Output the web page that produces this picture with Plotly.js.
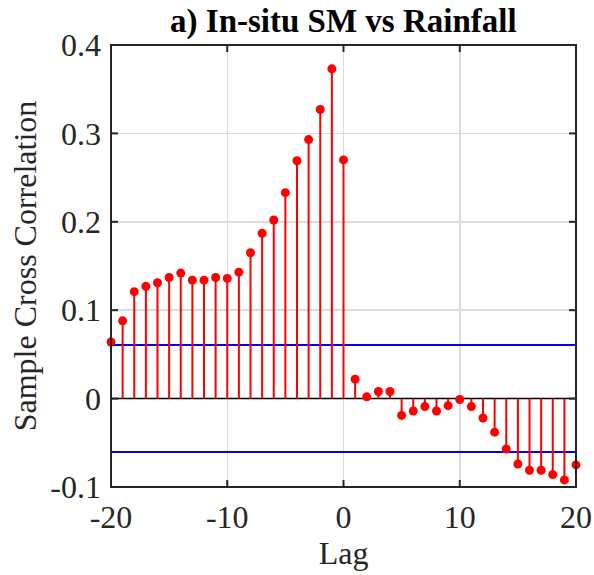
<!DOCTYPE html>
<html>
<head>
<meta charset="utf-8">
<script src="https://cdn.plot.ly/plotly-3.0.1.min.js"></script>
<style>html,body{margin:0;padding:0;background:#fff;}#wrap{position:relative;width:594px;height:575px;}#chart{width:594px;height:575px;}
#frameDiv{position:absolute;left:110px;top:44px;width:463px;height:440px;border:2px solid #262626;pointer-events:none;}</style>
</head>
<body>
<div id="wrap"><div id="chart"></div><div id="frameDiv"></div></div>
<script>
const lags = [-20,-19,-18,-17,-16,-15,-14,-13,-12,-11,-10,-9,-8,-7,-6,-5,-4,-3,-2,-1,0,1,2,3,4,5,6,7,8,9,10,11,12,13,14,15,16,17,18,19,20];
const xcf = [0.064,0.088,0.121,0.127,0.131,0.137,0.142,0.134,0.134,0.137,0.136,0.143,0.165,0.187,0.202,0.233,0.269,0.293,0.327,0.373,0.270,
             0.022,0.002,0.008,0.008,-0.019,-0.014,-0.009,-0.014,-0.008,-0.001,-0.009,-0.022,-0.038,-0.057,-0.074,-0.081,-0.081,-0.086,-0.092,-0.075];
const bound = 0.0605;
const xTicks = [-20,-10,0,10,20];
const xTickText = ['-20','-10','0','10','20'];
const yTicks = [-0.1,0,0.1,0.2,0.3,0.4];
const yTickText = ['-0.1','0','0.1','0.2','0.3','0.4'];

const FONT = 'Liberation Serif, Times New Roman, serif';
const AX = '#262626';
const xRange = [-20, 20], yRange = [-0.1, 0.4];
const W = 594, H = 575, M = {l: 111, r: 18, t: 45, b: 88};
const pw = W - M.l - M.r, ph = H - M.t - M.b;
const dx = (xRange[1] - xRange[0]) / pw, dy = (yRange[1] - yRange[0]) / ph;

const stems = {
  x: lags, y: xcf, type: 'scatter', mode: 'markers', cliponaxis: false,
  marker: {color: '#ff0000', size: 9},
  error_y: {type: 'data', symmetric: false,
    array: xcf.map(v => v < 0 ? -v : 0),
    arrayminus: xcf.map(v => v > 0 ? v : 0),
    width: 0, thickness: 2, color: '#ff0000'},
  showlegend: false
};
const upper = {x: xRange, y: xRange.map(() => bound), type: 'scatter', mode: 'lines',
  line: {color: '#0000ff', width: 2}, showlegend: false};
const lower = {x: xRange, y: xRange.map(() => -bound), type: 'scatter', mode: 'lines',
  line: {color: '#0000ff', width: 2}, showlegend: false};
const base = {x: xRange, y: [0, 0], type: 'scatter', mode: 'lines',
  line: {color: '#000000', width: 1.5}, showlegend: false};

// inside tick marks, built from the tick arrays (1px in from the frame, 6px long)
const tx = [], ty = [];
xTicks.forEach(t => {
  tx.push(t, t, null, t, t, null);
  ty.push(yRange[0] + 1 * dy, yRange[0] + 7 * dy, null, yRange[1] - 1 * dy, yRange[1] - 7 * dy, null);
});
yTicks.forEach(t => {
  tx.push(xRange[0] + 1 * dx, xRange[0] + 7 * dx, null, xRange[1] - 1 * dx, xRange[1] - 7 * dx, null);
  ty.push(t, t, null, t, t, null);
});
const ticks = {x: tx, y: ty, type: 'scatter', mode: 'lines', connectgaps: false,
  line: {color: AX, width: 2}, showlegend: false};

const layout = {
  width: W, height: H,
  margin: M,
  paper_bgcolor: '#ffffff', plot_bgcolor: '#ffffff',
  title: {text: '<b>a) In-situ SM vs Rainfall</b>', x: 0.578, xanchor: 'center', y: 0.965, yanchor: 'middle',
    font: {family: FONT, size: 33, color: '#000000'}},
  xaxis: {
    range: xRange, tickvals: xTicks, ticktext: xTickText, ticks: '', ticklabelstandoff: 8,
    showline: false, showgrid: true, gridcolor: '#dcdcdc', gridwidth: 1.5, zeroline: false,
    tickfont: {family: FONT, size: 32, color: AX},
    title: {text: 'Lag', standoff: 6, font: {family: FONT, size: 32, color: AX}}
  },
  yaxis: {
    range: yRange, tickvals: yTicks, ticktext: yTickText, ticks: '', ticklabelstandoff: 9,
    showline: false, showgrid: true, gridcolor: '#dcdcdc', gridwidth: 1.5, zeroline: false,
    tickfont: {family: FONT, size: 32, color: AX},
    title: {text: 'Sample Cross Correlation', standoff: 4, font: {family: FONT, size: 32, color: AX}}
  }
};

Plotly.newPlot('chart', [base, upper, lower, ticks, stems], layout, {displayModeBar: false, staticPlot: true});
</script>
</body>
</html>
